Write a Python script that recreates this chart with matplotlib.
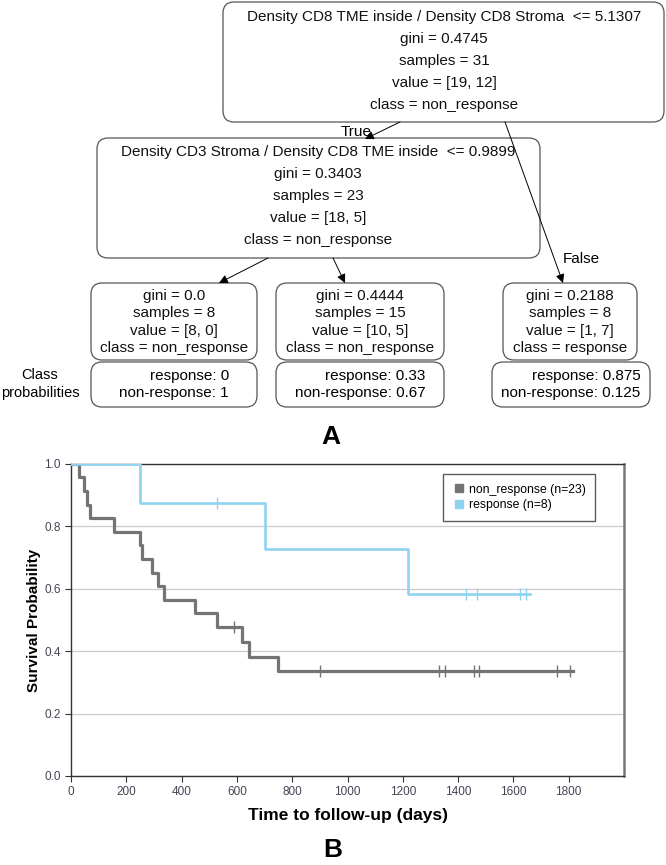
import numpy as np
import matplotlib
matplotlib.use("Agg")
import matplotlib.pyplot as plt
from matplotlib.patches import FancyBboxPatch
from matplotlib.lines import Line2D

plt.rcParams['font.family'] = ['Liberation Sans', 'DejaVu Sans']
TREE_FONT = ['Liberation Sans', 'DejaVu Sans']
TREE_SIZE = 11

# ---- decision tree text ----
root_lines = ["Density CD8 TME inside / Density CD8 Stroma  <= 5.1307",
              "gini = 0.4745", "samples = 31", "value = [19, 12]", "class = non_response"]
split_lines = ["Density CD3 Stroma / Density CD8 TME inside  <= 0.9899",
               "gini = 0.3403", "samples = 23", "value = [18, 5]", "class = non_response"]
leaf_lines = [
    ["gini = 0.0", "samples = 8", "value = [8, 0]", "class = non_response"],
    ["gini = 0.4444", "samples = 15", "value = [10, 5]", "class = non_response"],
    ["gini = 0.2188", "samples = 8", "value = [1, 7]", "class = response"],
]
prob_response = ["0", "0.33", "0.875"]
prob_non_response = ["1", "0.67", "0.125"]

# ---- Kaplan-Meier curves ----
nr_drop_days = [30, 48, 59, 69, 155, 250, 256, 292, 316, 336, 448, 527, 617, 643, 749]
nr_surv = [0.957, 0.913, 0.870, 0.826, 0.783, 0.739, 0.696, 0.652, 0.609, 0.565,
           0.522, 0.478, 0.430, 0.383, 0.335]
nr_censor_days = [589, 900, 1331, 1352, 1458, 1476, 1758, 1806]
nr_last_day = 1815

r_drop_days = [249, 703, 1219]
r_surv = [0.875, 0.729, 0.583]
r_censor_days = [527, 1430, 1470, 1625, 1647]
r_last_day = 1660

nr_label = "non_response (n=23)"
r_label = "response (n=8)"
nr_color = '#747474'
r_color = '#8fd3f0'

W, H = 666, 865
fig = plt.figure(figsize=(W / 100, H / 100), dpi=100)

# tree canvas in pixel coordinates
tx = fig.add_axes([0, 0, 1, 1])
tx.set_xlim(0, W)
tx.set_ylim(H, 0)
tx.axis('off')


def box(x0, y0, x1, y1, r=11):
    tx.add_patch(FancyBboxPatch((x0, y0), x1 - x0, y1 - y0,
                                boxstyle=f"round,pad=0,rounding_size={r}",
                                fc='white', ec='#555555', lw=0.9))


def lines(cx, y0, pitch, texts):
    for i, t in enumerate(texts):
        tx.text(cx, y0 + i * pitch, t, ha='center', va='center',
                fontsize=TREE_SIZE, family=TREE_FONT, color='#111111')


def arrow(x0, y0, x1, y1):
    tx.annotate('', xy=(x1, y1), xytext=(x0, y0),
                arrowprops=dict(arrowstyle='-|>', color='black', lw=0.7,
                                mutation_scale=13, shrinkA=0, shrinkB=0))


# root
box(223, 2, 664, 122)
lines(444, 17, 22, root_lines)
# second split
box(97, 138, 540, 258)
lines(318, 152, 22, split_lines)

arrow(400, 122, 365, 139)
tx.text(356, 132, "True", ha='center', va='center', fontsize=TREE_SIZE, family=TREE_FONT)
arrow(505, 122, 563, 283)
tx.text(581, 259, "False", ha='center', va='center', fontsize=TREE_SIZE, family=TREE_FONT)
arrow(268, 258, 219, 283)
arrow(333, 258, 345, 283)

leaf_x = [(91, 257), (276, 444), (503, 637)]
prob_x = [(91, 257), (276, 444), (492, 650)]
for (x0, x1), (p0, p1), txts, pr, pn in zip(leaf_x, prob_x, leaf_lines,
                                             prob_response, prob_non_response):
    box(x0, 283, x1, 360)
    lines((x0 + x1) / 2, 296, 17.3, txts)
    box(p0, 362, p1, 407)
    tx.text((p0 + p1) / 2, 384.5, f"response: {pr}\nnon-response: {pn}",
            ha='center', va='center', multialignment='right', fontsize=TREE_SIZE,
            family=TREE_FONT, linespacing=1.3)

tx.text(40, 384, "Class\nprobabilities", ha='center', va='center', fontsize=10.5,
        family=TREE_FONT, linespacing=1.3)
tx.text(331, 437, "A", ha='center', va='center', fontsize=19, fontweight='bold')
tx.text(333, 850, "B", ha='center', va='center', fontsize=19, fontweight='bold')

# ---- survival plot ----
ax = fig.add_axes([71 / W, 1 - 776 / H, (624 - 71) / W, (776 - 464) / H])


def km(drops, surv, censors, last, color, lw):
    xs = np.concatenate([[0], drops, [last]])
    ys = np.concatenate([[1.0], surv, [surv[-1]]])
    ax.step(xs, ys, where='post', color=color, lw=lw, zorder=3)
    idx = np.searchsorted(drops, censors, side='right')
    cy = np.concatenate([[1.0], surv])[idx]
    ax.plot(censors, cy, ls='none', marker='|', ms=9, mew=1.0, color=color, zorder=4)


km(nr_drop_days, nr_surv, nr_censor_days, nr_last_day, nr_color, 2.3)
km(r_drop_days, r_surv, r_censor_days, r_last_day, r_color, 1.9)

ax.set_xlim(0, 2000)
ax.set_ylim(0, 1.0)
ax.set_xticks(np.arange(0, 1801, 200))
ax.set_yticks(np.arange(0, 1.01, 0.2))
ax.set_yticklabels([f"{v:.1f}" for v in np.arange(0, 1.01, 0.2)])
ax.yaxis.grid(True, color='#cccccc', lw=0.9)
ax.set_axisbelow(True)
ax.tick_params(labelsize=8.5, labelcolor='#444455', length=4, width=0.8, color='#333333')
for s in ['left', 'bottom', 'top']:
    ax.spines[s].set_color('#333333')
    ax.spines[s].set_linewidth(1.0)
ax.spines['right'].set_color('#777777')
ax.spines['right'].set_linewidth(1.8)
ax.set_xlabel("Time to follow-up (days)", fontsize=12.5, fontweight='bold', labelpad=7)
ax.set_ylabel("Survival Probability", fontsize=11, fontweight='bold', labelpad=2)

handles = [Line2D([], [], ls='none', marker='s', ms=6, color=nr_color),
           Line2D([], [], ls='none', marker='s', ms=6, color=r_color)]
leg = ax.legend(handles, [nr_label, r_label], loc='upper right',
                bbox_to_anchor=(0.948, 0.968), borderaxespad=0, fancybox=False,
                fontsize=8.8, handletextpad=0.3, handlelength=1.0,
                borderpad=0.8, labelspacing=0.3, edgecolor='#333333')
leg.get_frame().set_linewidth(1.0)

fig.savefig("out.png", dpi=100)
